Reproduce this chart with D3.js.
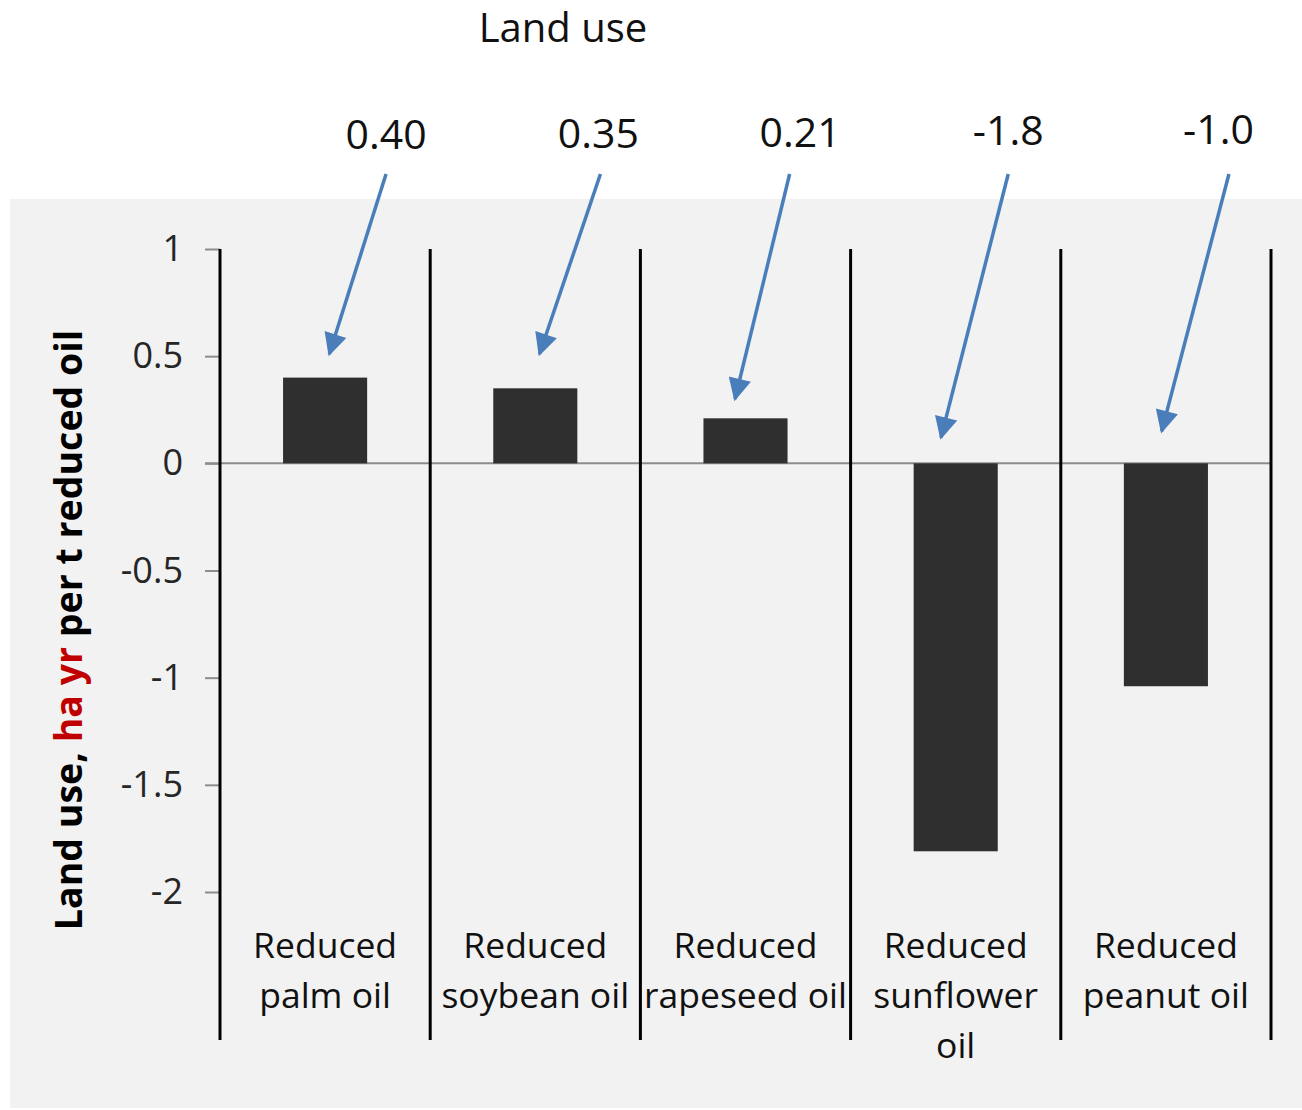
<!DOCTYPE html>
<meta charset="utf-8">
<style>
  body { margin: 0; background: #ffffff; font-family: "Open Sans", sans-serif; }
  .axis path { display: none; }
  .axis line { stroke: #8c8c8c; stroke-width: 2; }
  .axis text { fill: #262626; font-family: "Open Sans", sans-serif; font-size: 36px; }
  .sep { stroke: #000000; stroke-width: 3; }
  .bar { fill: #2f2f2f; }
  .cat { fill: #111111; font-size: 35.5px; text-anchor: middle; }
  .note { fill: #111111; font-size: 41px; text-anchor: middle; }
  .arrow { stroke: #4a7ebb; stroke-width: 3.5; fill: none; }
</style>
<body>
<script src="https://d3js.org/d3.v7.min.js"></script>
<script>
var categories = ["Reduced palm oil", "Reduced soybean oil", "Reduced rapeseed oil", "Reduced sunflower oil", "Reduced peanut oil"];
var catLines = [["Reduced", "palm oil"], ["Reduced", "soybean oil"], ["Reduced", "rapeseed oil"], ["Reduced", "sunflower", "oil"], ["Reduced", "peanut oil"]];
var values = [0.40, 0.35, 0.21, -1.81, -1.04];
var noteLabels = ["0.40", "0.35", "0.21", "-1.8", "-1.0"];
var noteDx = [0.29, 0.30, 0.26, 0.25, 0.25];
var arrowTips = [0.51, 0.51, 0.30, 0.12, 0.15];
var arrowStartDx = [0.29, 0.31, 0.21, 0.25, 0.30];
var arrowEndDx = [0.02, 0.02, -0.05, -0.07, -0.02];
var yTicks = [1, 0.5, 0, -0.5, -1, -1.5, -2];
var yTickLabels = ["1", "0.5", "0", "-0.5", "-1", "-1.5", "-2"];

var W = 1302, H = 1110;

var svg = d3.select("body").append("svg")
    .attr("width", W)
    .attr("height", H);

// grey plot panel
svg.append("rect")
    .attr("x", 10).attr("y", 199)
    .attr("width", W - 10).attr("height", 909)
    .attr("fill", "#f2f2f2");

var x = d3.scaleBand()
    .domain(categories)
    .range([220, 1271])
    .padding(0);

var y = d3.scaleLinear()
    .domain([-2, 1])
    .range([892, 249]);

var bw = x.bandwidth();
var sepBottom = 1040;

svg.append("defs").append("marker")
    .attr("id", "head")
    .attr("viewBox", "0 0 10 10")
    .attr("refX", 9).attr("refY", 5)
    .attr("markerWidth", 7.5).attr("markerHeight", 6.5)
    .attr("markerUnits", "strokeWidth")
    .attr("orient", "auto")
    .append("path")
    .attr("d", "M0,0L10,5L0,10Z")
    .attr("fill", "#4a7ebb");

// y axis ticks and labels
var yAxis = d3.axisLeft(y)
    .tickValues(yTicks)
    .tickSize(15)
    .tickPadding(22)
    .tickFormat(function(d, i) { return yTickLabels[i]; });

svg.append("g")
    .attr("class", "y axis")
    .attr("transform", "translate(220,0)")
    .call(yAxis);

// zero line
svg.append("line")
    .attr("x1", 205).attr("x2", 1271)
    .attr("y1", y(0)).attr("y2", y(0))
    .attr("stroke", "#8c8c8c").attr("stroke-width", 2);

// category separators (axis line included)
var seps = categories.map(function(c) { return x(c); }).concat([x(categories[categories.length - 1]) + bw]);
svg.selectAll("line.sep")
    .data(seps)
    .enter().append("line")
    .attr("class", "sep")
    .attr("x1", function(d) { return d; })
    .attr("x2", function(d) { return d; })
    .attr("y1", y(1))
    .attr("y2", sepBottom);

// bars
svg.selectAll("rect.bar")
    .data(values)
    .enter().append("rect")
    .attr("class", "bar")
    .attr("x", function(d, i) { return x(categories[i]) + bw * 0.3; })
    .attr("width", bw * 0.4)
    .attr("y", function(d) { return y(Math.max(0, d)); })
    .attr("height", function(d) { return Math.abs(y(d) - y(0)); });

// category labels
var cat = svg.selectAll("text.cat")
    .data(catLines)
    .enter().append("text")
    .attr("class", "cat")
    .attr("x", function(d, i) { return x(categories[i]) + bw / 2; })
    .attr("y", 958);

cat.selectAll("tspan")
    .data(function(d, i) { return d.map(function(t) { return { t: t, i: i }; }); })
    .enter().append("tspan")
    .attr("x", function(d) { return x(categories[d.i]) + bw / 2; })
    .attr("dy", function(d, j) { return j === 0 ? 0 : 50; })
    .text(function(d) { return d.t; });

// value notes + arrows
svg.selectAll("text.note")
    .data(noteLabels)
    .enter().append("text")
    .attr("class", "note")
    .attr("x", function(d, i) { return x(categories[i]) + bw / 2 + bw * noteDx[i]; })
    .attr("y", function(d, i) { return 149 - i * 1.2; })
    .text(function(d) { return d; });

svg.selectAll("line.arrow")
    .data(arrowTips)
    .enter().append("line")
    .attr("class", "arrow")
    .attr("x1", function(d, i) { return x(categories[i]) + bw / 2 + bw * arrowStartDx[i]; })
    .attr("y1", 174)
    .attr("x2", function(d, i) { return x(categories[i]) + bw / 2 + bw * arrowEndDx[i]; })
    .attr("y2", function(d) { return y(d); })
    .attr("marker-end", "url(#head)");

// title
svg.append("text")
    .attr("x", 563).attr("y", 42)
    .attr("text-anchor", "middle")
    .attr("font-size", 40)
    .attr("fill", "#111111")
    .text("Land use");

// y axis title
var yt = svg.append("text")
    .attr("transform", "translate(82,630) rotate(-90)")
    .attr("text-anchor", "middle")
    .attr("font-size", 37.5)
    .attr("font-weight", "bold")
    .attr("fill", "#000000");
yt.append("tspan").text("Land use, ");
yt.append("tspan").attr("fill", "#c00000").text("ha yr");
yt.append("tspan").text(" per t reduced oil");
</script>
</body>
